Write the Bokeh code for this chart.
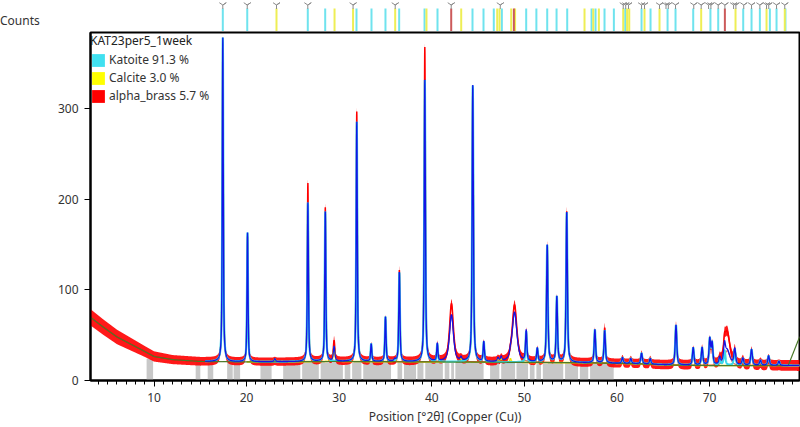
import numpy as np
from bokeh.plotting import figure
from bokeh.layouts import column, row
from bokeh.models import (Range1d, Div, Legend, LegendItem, FixedTicker,
                          SingleIntervalTicker)
from bokeh.embed import file_html
from bokeh.resources import INLINE

# ---------------------------------------------------------------- data
sample_name = "KAT23per5_1week"
phase_labels = ["Katoite 91.3 %", "Calcite 3.0 %", "alpha_brass 5.7 %"]
x_label = "Position [°2θ] (Copper (Cu))"
y_label = "Counts"
y_ticks = [0, 100, 200, 300]

# fitted background (°2θ, counts)
bg_pos = [3.1, 4.5, 6.0, 7.5, 9.0, 10.0, 12.0, 15.0, 20.0, 30.0, 40.0, 50.0,
          57.0, 62.0, 66.0, 70.0, 79.9]
bg_cnt = [70, 59, 48, 40, 32, 26.5, 23, 21, 20.5, 21, 20.5, 20,
          19.5, 18.5, 17, 16.5, 16.5]
# upturn of the background curve at the high-angle end
bg_tail_pos = [78.5, 79.65, 79.9]
bg_tail_cnt = [16.5, 46, 50]

# half-width of the counting-noise band of the measured scan
noise_pos = [3.1, 6.0, 9.0, 12.0, 20.0, 60.0, 79.9]
noise_amp = [9, 8, 6, 5, 4.5, 5, 6]

# Katoite reflections: position, calculated top, observed top, FWHM
kat_pos = [17.43, 20.10, 26.62, 28.50, 31.90, 33.46, 35.00, 36.50, 39.25, 40.60,
           44.43, 45.62, 50.20, 51.40, 52.47, 53.51, 54.58, 57.62, 58.68, 60.60,
           61.50, 62.66, 63.60, 66.38, 68.24, 69.20, 70.03, 70.28, 71.10, 71.62,
           72.73, 73.60, 74.54, 75.50, 76.38, 77.50]
kat_calc = [378, 163, 196, 186, 285, 40, 70, 119, 331, 40,
            325, 42, 54, 35, 149, 92, 185, 56, 55, 25,
            24, 30, 24, 61, 36, 36, 45, 40, 24, 33,
            34, 24, 34, 22, 27, 21]
kat_obs = [378, 163, 222, 195, 301, 42, 72, 126, 372, 42,
           325, 44, 56, 37, 153, 94, 191, 58, 63, 28,
           27, 33, 27, 65, 38, 39, 47, 42, 27, 35,
           36, 27, 37, 25, 29, 23]
kat_fwhm = [0.13, 0.13, 0.14, 0.14, 0.14, 0.15, 0.15, 0.15, 0.15, 0.15,
            0.16, 0.16, 0.17, 0.17, 0.17, 0.17, 0.17, 0.18, 0.18, 0.2,
            0.2, 0.2, 0.2, 0.2, 0.2, 0.2, 0.2, 0.2, 0.2, 0.22,
            0.22, 0.22, 0.22, 0.22, 0.22, 0.22]

# Calcite reflections
cal_pos = [23.05, 29.45, 36.00, 43.16, 47.15, 47.50, 48.50]
cal_calc = [24, 37, 23, 24, 24, 25, 24]
cal_obs = [26, 48, 25, 27, 27, 28, 27]
cal_fwhm = [0.2, 0.2, 0.2, 0.2, 0.2, 0.2, 0.2]

# alpha-brass reflections
brs_pos = [42.13, 48.94, 71.90]
brs_calc = [72, 75, 33]
brs_obs = [89, 88, 59]
brs_fwhm = [0.5, 0.6, 0.7]

# reference reflection positions shown in the strip above the scan
kat_ref = [17.43, 20.07, 26.61, 28.49, 31.87, 33.49, 35.0, 36.48, 39.22, 40.62,
           44.4, 45.59, 46.7, 47.57, 50.2, 51.3, 52.47, 53.48, 54.63, 57.26,
           57.69, 58.66, 59.67, 60.9, 62.66, 63.63, 65.47, 66.33, 68.24, 70.1,
           70.94, 73.64, 74.54, 75.44, 76.52, 77.24, 78.2]
cal_ref = [23.23, 29.5, 31.5, 36.05, 39.43, 43.18, 47.07, 47.32, 48.58, 49.0,
           56.5, 57.44, 58.05, 60.68, 61.1, 61.33, 62.98, 64.6, 69.1, 72.81,
           76.16, 78.13]
brs_ref = [42.1, 48.87, 71.66]
# positions of the peak-search marks
peak_marks = [17.43, 20.07, 23.23, 26.61, 31.5, 36.05, 42.1, 47.4, 60.68, 60.95,
              61.25, 62.66, 62.98, 64.6, 65.3, 65.55, 66.33, 68.3, 69.1, 69.9,
              70.15, 70.94, 71.66, 72.6, 72.85, 73.7, 74.54, 75.44, 76.16, 76.4,
              77.24, 78.13]

# grey regions along the bottom of the scan
gray_left = [9.2, 14.5, 15.8, 17.9, 18.6, 21.5, 23.95, 26.0, 28.0, 30.6,
             31.4, 32.6, 36.3, 37.0, 38.45, 39.3, 41.4, 42.1, 42.55, 46.3,
             47.5, 49.15, 50.6, 51.3, 52.0, 54.4, 56.0, 57.1]
gray_right = [9.9, 15.0, 16.4, 18.5, 19.3, 22.7, 25.8, 27.8, 30.4, 31.2,
              32.4, 35.6, 36.8, 38.3, 39.1, 41.2, 41.9, 42.4, 45.6, 47.3,
              49.0, 50.4, 51.1, 51.8, 54.2, 55.8, 56.9, 59.65]
gray_top = [24, 21, 21, 21, 21, 21, 21, 21, 21, 21,
            21, 21, 21, 21, 21, 21, 21, 21, 21, 21,
            21, 20, 20, 20, 20, 20, 20, 20]

# ---------------------------------------------------------------- layout constants
X_START, X_END = 3.14, 79.72
LEFT_PAD = 90                      # pixels left of the scan area
STRIP_H = 31                       # height of the reflection strip
Y_MAX = 383.7

FONT = "Noto Sans"
TXT = "#333333"
CYAN, YELLOW, RED = "#40e0f0", "#ffff00", "#ff0000"

# ---------------------------------------------------------------- profiles
tt = np.arange(3.1, 79.9001, 0.01)
bg = np.interp(tt, bg_pos, bg_cnt)
amp = np.interp(tt, noise_pos, noise_amp)


def pseudo_voigt(x, x0, w, eta=0.65):
    d = (x - x0) / w
    return eta / (1.0 + 4.0 * d * d) + (1.0 - eta) * np.exp(-4.0 * np.log(2.0) * d * d)


def profile(pos, tops, fwhm, noise_offset=False):
    y = np.zeros_like(tt)
    for p0, top, w in zip(pos, tops, fwhm):
        h = top - np.interp(p0, bg_pos, bg_cnt)
        if noise_offset:
            h -= np.interp(p0, noise_pos, noise_amp)
        y += max(h, 0.0) * pseudo_voigt(tt, p0, w)
    return y


kat = profile(kat_pos, kat_calc, kat_fwhm)
cal = profile(cal_pos, cal_calc, cal_fwhm)
brs = profile(brs_pos, brs_calc, brs_fwhm)
calc = bg + kat + cal + brs
obs_mid = (bg + profile(kat_pos, kat_obs, kat_fwhm, True)
           + profile(cal_pos, cal_obs, cal_fwhm, True)
           + profile(brs_pos, brs_obs, brs_fwhm, True))

bg_line = bg.copy()
tail = tt >= bg_tail_pos[0]
bg_line[tail] = np.interp(tt[tail], bg_tail_pos, bg_tail_cnt)

calc_line = np.where(tt >= 15.5, calc, np.nan)
kat_line = np.where(tt >= 15.5, bg + kat, np.nan)
cal_line = np.where(tt >= 20.0, bg + cal, np.nan)
brs_line = np.where(tt >= 35.0, bg + brs, np.nan)

# ---------------------------------------------------------------- "Counts" caption
caption = Div(text=y_label, width=LEFT_PAD, height=STRIP_H, margin=0,
              styles={"font-family": FONT, "font-size": "12px", "color": TXT,
                      "padding-top": "13px", "line-height": "16px",
                      "white-space": "nowrap"})

# ---------------------------------------------------------------- reflection strip
strip = figure(width=800 - LEFT_PAD, height=STRIP_H,
               x_range=Range1d(X_START, X_END), y_range=Range1d(0, STRIP_H),
               output_backend="svg", toolbar_location=None,
               x_axis_location=None, y_axis_location=None,
               min_border_left=0, min_border_right=1, min_border_top=0,
               min_border_bottom=0, margin=0)
strip.outline_line_color = None
strip.xgrid.visible = False
strip.ygrid.visible = False
for refs, col in ((kat_ref, "#6fe3ee"), (cal_ref, "#eeee55"), (brs_ref, "#cc5a5a")):
    strip.segment(x0=refs, x1=refs, y0=0, y1=23, line_color=col, line_width=2)
strip.scatter(x=peak_marks, y=26.5, marker="y", size=8, line_color="#8a8a8a",
              line_width=1)

# ---------------------------------------------------------------- scan
p = figure(width=800, height=427 - STRIP_H, x_range=Range1d(X_START, X_END),
           y_range=Range1d(0, Y_MAX), output_backend="svg", toolbar_location=None,
           min_border_left=LEFT_PAD, min_border_right=1, min_border_top=1,
           min_border_bottom=47, margin=0)
p.outline_line_color = "black"
p.outline_line_width = 2
p.xgrid.visible = False
p.ygrid.visible = False

# grey regions
p.quad(left=gray_left, right=gray_right, bottom=0, top=gray_top,
       fill_color="#c8c8c8", line_color=None)

# measured scan: noise band and its centre trace
p.varea(x=tt, y1=obs_mid - amp, y2=obs_mid + amp, fill_color=RED, fill_alpha=0.9)
p.line(tt, obs_mid, line_color=RED, line_width=1.5)

# phase profiles, background and calculated profile
p.line(tt, cal_line, line_color="#f2e600", line_width=1.6)
p.line(tt, brs_line, line_color="#c81e1e", line_width=1.0)
p.line(tt, kat_line, line_color="#38d8ea", line_width=2.2)
p.line(tt, bg_line, line_color="#4b7a2a", line_width=1.2)
p.line(tt, calc_line, line_color="#1414e6", line_width=1.3)

# axes
xa = p.xaxis[0]
xa.ticker = SingleIntervalTicker(interval=10, num_minor_ticks=10)
xa.axis_label = x_label
ya = p.yaxis[0]
ya.ticker = FixedTicker(ticks=y_ticks)
for ax in (xa, ya):
    ax.axis_line_width = 2
    ax.axis_line_color = "black"
    ax.major_tick_line_color = "black"
    ax.major_tick_in = 0
    ax.major_tick_out = 6
    ax.minor_tick_in = 0
    ax.minor_tick_out = 4
    ax.major_label_text_font = FONT
    ax.major_label_text_font_size = "12px"
    ax.major_label_text_color = TXT
    ax.axis_label_text_font = FONT
    ax.axis_label_text_font_size = "12px"
    ax.axis_label_text_font_style = "normal"
    ax.axis_label_text_color = TXT
xa.minor_tick_line_color = "black"
ya.minor_tick_line_color = None
xa.major_label_standoff = 6
xa.axis_label_standoff = 3
ya.major_label_standoff = 6

# legend
swatches = [p.quad(left=[np.nan], right=[np.nan], top=[np.nan], bottom=[np.nan],
                   fill_color=c, line_color=None) for c in (CYAN, YELLOW, RED)]
legend = Legend(items=[LegendItem(label=l, renderers=[r])
                       for l, r in zip(phase_labels, swatches)],
                title=sample_name, location="top_left", margin=0, padding=3,
                spacing=1, glyph_width=16, glyph_height=16, label_height=16,
                label_standoff=3, title_standoff=2,
                border_line_color=None, background_fill_alpha=0,
                label_text_font=FONT, label_text_font_size="12px",
                label_text_color=TXT, title_text_font=FONT,
                title_text_font_size="12px", title_text_font_style="normal",
                title_text_color="#222222")
p.add_layout(legend)

page = column(row(caption, strip, margin=0, spacing=0), p, margin=0, spacing=0)
open("out.html", "w").write(file_html(page, INLINE))
